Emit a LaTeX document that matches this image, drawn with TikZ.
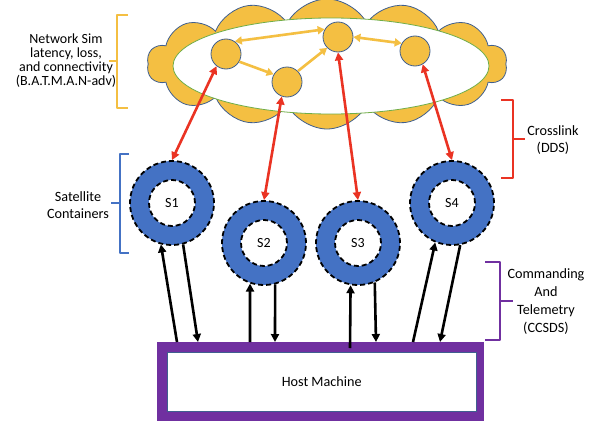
\documentclass[tikz,border=0pt]{standalone}
\usepackage{fontspec}
\setmainfont{Carlito}
\usetikzlibrary{arrows.meta,shapes.symbols,shapes.geometric,calc}
\definecolor{cyell}{HTML}{F4BF42}
\definecolor{cline}{HTML}{3F5F8F}
\definecolor{cgreen}{HTML}{70AD47}
\definecolor{cred}{HTML}{EA3323}
\definecolor{cblue}{HTML}{4472C4}
\definecolor{cpurp}{HTML}{7030A0}
\begin{document}
\begin{tikzpicture}[x=1pt,y=-1pt,
  pnode/.style={circle,fill=cyell,draw=cline,line width=0.8pt,minimum size=30pt,inner sep=0pt},
  sat/.style={circle,fill=cblue,draw=black,line width=1.8pt,dash pattern=on 5pt off 3pt,minimum size=84pt,inner sep=0pt},
  satin/.style={circle,fill=white,draw=black,line width=1.8pt,dash pattern=on 5pt off 3pt,minimum size=46pt,inner sep=0pt,font=\fontsize{14}{16}\selectfont},
  yarr/.style={cyell,line width=2.6pt,-{Triangle[length=7pt,width=8pt]}},
  yarr2/.style={yarr,{Triangle[length=7pt,width=8pt]}-{Triangle[length=7pt,width=8pt]}},
  rarr/.style={cred,line width=2.6pt,{Triangle[length=8pt,width=8pt]}-{Triangle[length=8pt,width=8pt]}},
  barr/.style={black,line width=2.6pt,-{Triangle[length=8pt,width=8pt]}},
  brk/.style={line width=2.2pt,line join=round},
  lbl/.style={align=center,font=\fontsize{14.2}{17.7}\selectfont}
]
\useasboundingbox (0,0) rectangle (593,420);
% cloud
\node[cloud,cloud puffs=14,cloud puff arc=125,aspect=3,fill=cyell,draw=cline,line width=0.8pt,minimum width=360pt,minimum height=130pt,inner sep=0pt] (cloud) at (327,64) {};
\node[ellipse,fill=white,draw=cgreen,line width=0.8pt,minimum width=316pt,minimum height=96pt,inner sep=0pt] (net) at (331,66) {};
% network nodes
\node[pnode] (A) at (226,54) {};
\node[pnode] (B) at (287,82) {};
\node[pnode] (C) at (338,37) {};
\node[pnode] (D) at (415,51) {};
\draw[yarr2] (A.55) -- (C.150);
\draw[yarr] (A.-30) -- (B.150);
\draw[yarr] (B.45) -- (C.225);
\draw[yarr2] (C.0) -- (D.150);
% satellites
\foreach \n/\x/\y in {S1/172/203,S2/264/243,S3/358/243,S4/452/203}{
  \node[sat] (\n) at (\x,\y) {};
  \node[satin] (\n in) at (\x,\y) {\n};
}
% crosslinks
\draw[rarr] (A.232) -- (S1.north);
\draw[rarr] (B.250) -- (S2.north);
\draw[rarr] (C.270) -- (S3.north);
\draw[rarr] (D.300) -- (S4.north);
% host
\node[fill=cpurp,minimum width=327pt,minimum height=80pt,inner sep=0pt,anchor=north west] (H) at (157,342) {};
\node[fill=white,draw=cline,line width=0.5pt,minimum width=309pt,minimum height=59pt,inner sep=0pt,anchor=north west,font=\fontsize{14.2}{16}\selectfont] (Hin) at (167,352) {Host Machine};
\coordinate (h1) at (177,342);
\coordinate (h2) at (198,342);
\coordinate (h3) at (250,342);
\coordinate (h4) at (275,342);
\coordinate (h5) at (350,348);
\coordinate (h6) at (376,342);
\coordinate (h7) at (413,342);
\coordinate (h8) at (440,342);
\draw[barr] (h1) -- (S1.255);
\draw[barr] (S1.285) -- (h2);
\draw[barr] (h3) -- (S2.251);
\draw[barr] (S2.285) -- (h4);
\draw[barr] (h5) -- (S3.260);
\draw[barr] (S3.293) -- (h6);
\draw[barr] (h7) -- (S4.247);
\draw[barr] (S4.281) -- (h8);
% brackets and labels
\draw[brk,cyell] (128,15) -- (117,15) -- (117,108) -- (128,108) (117,61) -- (109,61);
\node[lbl,font=\fontsize{14}{13.8}\selectfont] (tnet) at (66,60.5) {Network Sim\\latency, loss,\\and connectivity\\(B.A.T.M.A.N-adv)};
\draw[brk,cblue] (129,154) -- (120,154) -- (120,253) -- (129,253) (120,203) -- (111,203);
\node[lbl,font=\fontsize{14.2}{16.5}\selectfont] (tsat) at (78,205) {Satellite\\Containers};
\draw[brk,cred] (501,100) -- (513,100) -- (513,178) -- (501,178) (513,139) -- (525,139);
\node[lbl] (tcross) at (553,140) {Crosslink\\(DDS)};
\draw[brk,cpurp] (485,262) -- (500,262) -- (500,340) -- (485,340) (500,301) -- (513,301);
\node[lbl] (tcmd) at (546,301.5) {Commanding\\And\\Telemetry\\(CCSDS)};
\end{tikzpicture}
\end{document}
